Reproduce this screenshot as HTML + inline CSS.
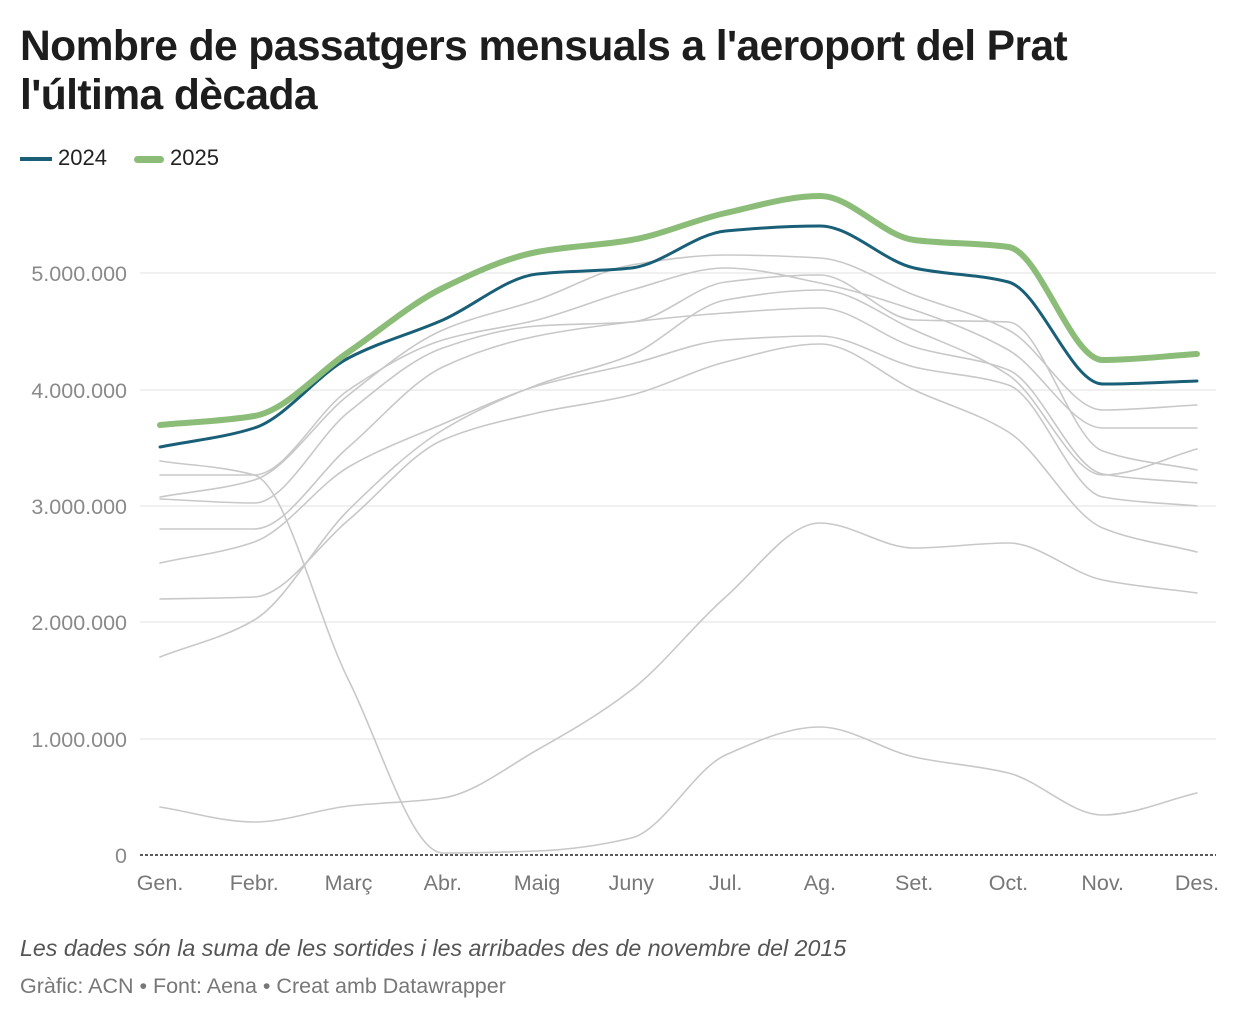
<!DOCTYPE html>
<html><head><meta charset="utf-8"><style>
body{margin:0;background:#fff;width:1240px;height:1020px;overflow:hidden;font-family:"Liberation Sans",sans-serif}
h1{position:absolute;left:20px;top:22px;margin:0;font-size:42.6px;line-height:49px;font-weight:bold;color:#1d1d1d;letter-spacing:-0.6px}
.leg{position:absolute;top:145px;font-size:22px;color:#222}
.note{position:absolute;left:20px;top:935px;font-size:23.2px;font-style:italic;color:#555}
.src{position:absolute;left:20px;top:974px;font-size:21.5px;color:#777}
</style></head><body>
<h1>Nombre de passatgers mensuals a l'aeroport del Prat<br>l'última dècada</h1>
<div class="leg" style="left:20px"><span style="display:inline-block;width:32px;height:4px;background:#1a5f78;vertical-align:middle;margin-right:6px"></span>2024</div>
<div class="leg" style="left:134px"><span style="display:inline-block;width:30px;height:7px;border-radius:4px;background:#8bbd78;vertical-align:middle;margin-right:6px"></span>2025</div>
<svg id="s" width="1240" height="1020" style="position:absolute;left:0;top:0">
<g stroke="#e2e2e2" stroke-width="1">
<line x1="140" x2="1216" y1="273" y2="273"/><line x1="140" x2="1216" y1="390" y2="390"/><line x1="140" x2="1216" y1="506" y2="506"/><line x1="140" x2="1216" y1="622" y2="622"/><line x1="140" x2="1216" y1="739" y2="739"/>
</g>
<g font-size="21.5" fill="#8a8a8a" font-family="Liberation Sans" text-anchor="end">
<text x="127" y="281">5.000.000</text><text x="127" y="398">4.000.000</text><text x="127" y="514">3.000.000</text><text x="127" y="630">2.000.000</text><text x="127" y="747">1.000.000</text><text x="127" y="863">0</text>
</g>
<g font-size="21.5" fill="#777" font-family="Liberation Sans" text-anchor="middle" id="xl"></g>
<g id="lines" fill="none"></g>
<line x1="140" x2="1216" y1="855" y2="855" stroke="#222" stroke-width="1.5" stroke-dasharray="3,2"/>
</svg>
<div class="note">Les dades són la suma de les sortides i les arribades des de novembre del 2015</div>
<div class="src">Gràfic: ACN • Font: Aena • Creat amb Datawrapper</div>
<script>
var X=i=>160+i*94.27;
var m=["Gen.","Febr.","Març","Abr.","Maig","Juny","Jul.","Ag.","Set.","Oct.","Nov.","Des."];
var xl=document.getElementById("xl");
m.forEach((t,i)=>{var e=document.createElementNS("http://www.w3.org/2000/svg","text");e.setAttribute("x",X(i));e.setAttribute("y",890);e.textContent=t;xl.appendChild(e);});
function path(v){var p=v.map((y,i)=>[X(i),y]);var n=p.length;
var s=[];for(var i=0;i<n;i++){var a=i>0?(p[i][1]-p[i-1][1]):null,b=i<n-1?(p[i+1][1]-p[i][1]):null;
 if(a===null)s.push(b);else if(b===null)s.push(a);else if(a*b<=0)s.push(0);else s.push(2*a*b/(a+b));}
var d="M"+p[0][0]+","+p[0][1];var h=94.27/3;
for(var i=0;i<n-1;i++){d+="C"+(p[i][0]+h)+","+(p[i][1]+s[i]/3)+" "+(p[i+1][0]-h)+","+(p[i+1][1]-s[i+1]/3)+" "+p[i+1][0]+","+p[i+1][1];}return d;}
var g=document.getElementById("lines");
function add(v,c,w){var e=document.createElementNS("http://www.w3.org/2000/svg","path");e.setAttribute("d",path(v));e.setAttribute("stroke",c);e.setAttribute("stroke-width",w);e.setAttribute("stroke-linecap","round");g.appendChild(e);}
var gr=[
[599,597,520,440,413,395,362,344,390,432,528,552],
[563,542,467,424,386,364,340,336,367,385,497,506],
[529,529,447,367,336,322,313,308,347,370,474,483],
[499,503,412,348,326,322,282,275,320,322,451,470],
[657,620,510,430,385,355,300,290,330,375,475,449],
[497,480,395,330,300,265,255,258,295,330,410,405],
[475,475,390,340,320,290,268,283,310,350,428,428],
[461,475,680,853,851,838,755,727,757,773,815,793],
[807,822,806,798,750,690,597,523,548,543,580,593]];
gr.forEach(v=>add(v,"#c8c8c8",1.6));
add([447,428,358,320,274,268,231,226,268,282,384,381],"#1a5f78",3);
add([425,416,352,288,252,240,213,196,240,247,360,354],"#8bbd78",6);
</script>
</body></html>
